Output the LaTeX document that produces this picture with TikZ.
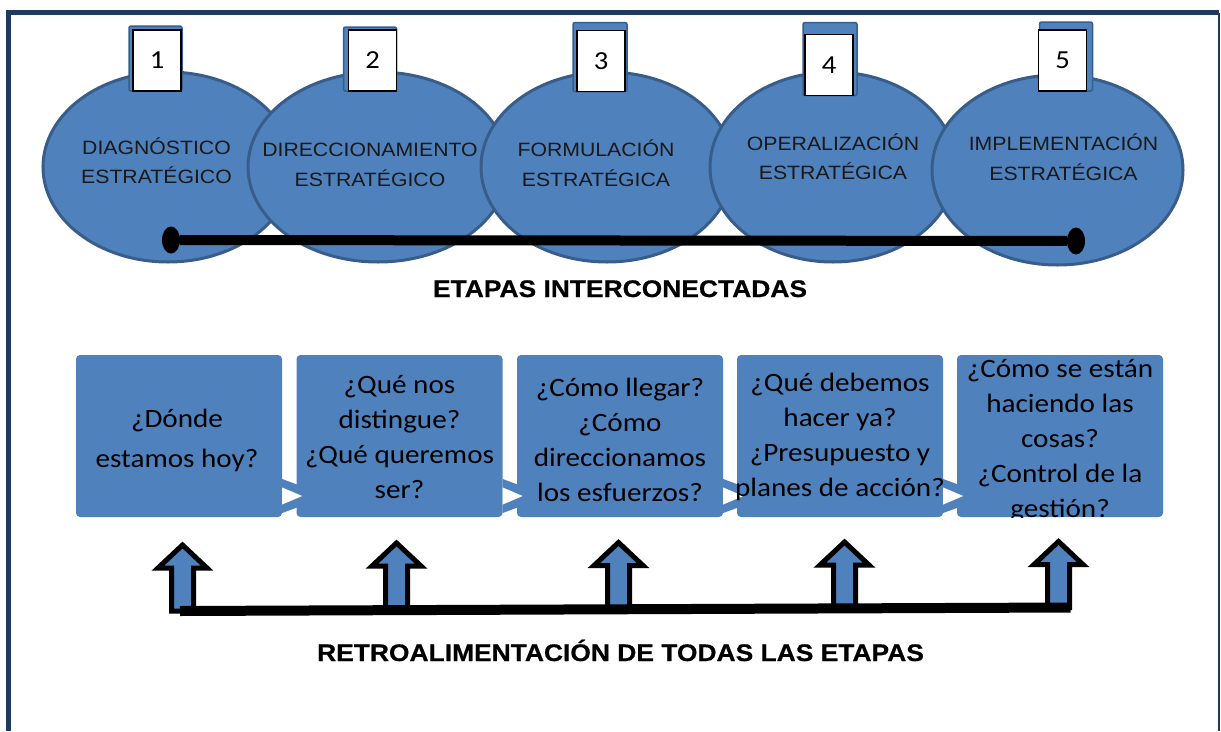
\documentclass[tikz,border=0pt]{standalone}
\usepackage{fontspec}
\newfontfamily\arialf[FakeStretch=1.1]{Liberation Sans}
\newfontfamily\arialbf[FakeStretch=1.1, FakeBold=0.6]{Liberation Sans Bold}
\newfontfamily\calibrif[FakeStretch=1.1]{Carlito}
\usetikzlibrary{shapes.geometric}
\definecolor{stageblue}{RGB}{79,129,189}
\definecolor{stageedge}{RGB}{56,93,138}
\definecolor{framenavy}{RGB}{31,58,96}

\begin{document}
\begin{tikzpicture}[x=1pt, y=-1pt,
  stage/.style={ellipse, draw=stageedge, line width=3pt, fill=stageblue,
    inner sep=0pt, minimum height=190pt},
  etext/.style={align=center, text=black!90, font=\arialf\fontsize{19.3}{29.5}\selectfont},
  numbox/.style={draw=black, line width=1.3pt, fill=white, minimum width=48pt,
    minimum height=61pt, inner sep=0pt, font=\calibrif\fontsize{26}{30}\selectfont},
  tabbox/.style={draw=stageedge, line width=1.5pt, fill=stageblue, rounded corners=2pt, inner sep=0pt},
  enddot/.style={ellipse, fill=black, inner sep=0pt, minimum width=18pt, minimum height=27pt},
  joinline/.style={line width=10pt, black},
  heading/.style={anchor=base, font=\arialbf\fontsize{24}{28}\selectfont},
  qbox/.style={rounded corners=4pt, fill=stageblue, minimum width=206pt,
    minimum height=162pt, inner sep=0pt},
  qtext/.style={align=center, font=\calibrif\fontsize{26.5}{35}\selectfont},
  chevout/.style={fill=stageblue},
  chevin/.style={fill=white},
  uparr/.style={draw=black, line width=5pt, fill=stageblue, miter limit=10},
  fbar/.style={line width=10pt, black}
]
  \useasboundingbox (0,0) rectangle (1221,731);
  % frame
  \draw[framenavy, line width=5pt] (8,731) -- (8,12.5) -- (1219,12.5);
  \draw[framenavy, line width=2pt] (1218.5,12.5) -- (1218.5,731);

  % stages
  \node[stage, minimum width=250pt] (diag) at (168,167) {};
  \node[stage, minimum width=260pt] (direc) at (378,167) {};
  \node[stage, minimum width=252pt] (formu) at (607,167) {};
  \node[stage, minimum width=246pt] (opera) at (833,167) {};
  \node[stage, minimum width=251pt] (imple) at (1057.5,170) {};

  \node[etext] (tdiag) at (156.5,160.5) {DIAGNÓSTICO\\ESTRATÉGICO};
  \node[etext] (tdirec) at (370,165) {DIRECCIONAMIENTO\\ESTRATÉGICO};
  \node[etext] (tformu) at (596,163) {FORMULACIÓN\\ESTRATÉGICA};
  \node[etext] (topera) at (833,156.5) {OPERALIZACIÓN\\ESTRATÉGICA};
  \node[etext] (timple) at (1063.5,157) {IMPLEMENTACIÓN\\ESTRATÉGICA};

  % numbers
  \node[tabbox, minimum width=53pt, minimum height=65pt] (tab1) at (155.5,58.5) {};
  \node[tabbox, minimum width=53pt, minimum height=64pt] (tab2) at (370,59) {};
  \node[tabbox, minimum width=54pt, minimum height=69pt] (tab3) at (600,57) {};
  \node[tabbox, minimum width=54pt, minimum height=73pt] (tab4) at (830,59) {};
  \node[tabbox, minimum width=53pt, minimum height=69pt] (tab5) at (1066,56.5) {};
  \node[numbox] (num1) at (157,60.5) {1};
  \node[numbox] (num2) at (372.5,60.5) {2};
  \node[numbox] (num3) at (601,61) {3};
  \node[numbox] (num4) at (829,65) {4};
  \node[numbox] (num5) at (1062.5,60.5) {5};

  \node[enddot] (dleft) at (171,240) {};
  \node[enddot] (dright) at (1076,241) {};
  \draw[joinline] (dleft) -- (dright);

  \node[heading] (etapas) at (620,297) {ETAPAS INTERCONECTADAS};

  % questions
  \node[qbox] (hoy) at (179,436) {};
  \node[qbox] (ser) at (399.5,436) {};
  \node[qbox] (llegar) at (620,436) {};
  \node[qbox] (hacer) at (840,436) {};
  \node[qbox] (gestion) at (1060,436) {};

  \fill[chevout] ([shift={(0,43)}]hoy.east) -- ([shift={(46,60)}]hoy.east) -- ([shift={(0,77)}]hoy.east) -- cycle;
  \fill[chevout] ([shift={(0,43)}]ser.east) -- ([shift={(46,60)}]ser.east) -- ([shift={(0,77)}]ser.east) -- cycle;
  \fill[chevout] ([shift={(0,43)}]llegar.east) -- ([shift={(46,60)}]llegar.east) -- ([shift={(0,77)}]llegar.east) -- cycle;
  \fill[chevout] ([shift={(0,43)}]hacer.east) -- ([shift={(46,60)}]hacer.east) -- ([shift={(0,77)}]hacer.east) -- cycle;
  \fill[chevin] ([shift={(0,51.5)}]hoy.east) -- ([shift={(20,60)}]hoy.east) -- ([shift={(0,68.5)}]hoy.east) -- cycle;
  \fill[chevin] ([shift={(0,51.5)}]ser.east) -- ([shift={(20,60)}]ser.east) -- ([shift={(0,68.5)}]ser.east) -- cycle;
  \fill[chevin] ([shift={(0,51.5)}]llegar.east) -- ([shift={(20,60)}]llegar.east) -- ([shift={(0,68.5)}]llegar.east) -- cycle;
  \fill[chevin] ([shift={(0,51.5)}]hacer.east) -- ([shift={(20,60)}]hacer.east) -- ([shift={(0,68.5)}]hacer.east) -- cycle;

  \begin{scope}
    \clip (0,355) rectangle (1221,517);
    \node[qtext, font=\calibrif\fontsize{26.5}{40}\selectfont] (qhoy) at (177,440) {¿Dónde\\estamos hoy?};
    \node[qtext] (qser) at (399.5,437) {¿Qué nos\\distingue?\\¿Qué queremos\\ser?};
    \node[qtext] (qllegar) at (620,440) {¿Cómo llegar?\\¿Cómo\\direccionamos\\los esfuerzos?};
    \node[qtext] (qhacer) at (840,437) {¿Qué debemos\\hacer ya?\\¿Presupuesto y\\planes de acción?};
    \node[qtext] (qgestion) at (1060,440.5) {¿Cómo se están\\haciendo las\\cosas?\\¿Control de la\\gestión?};
  \end{scope}

  % feedback
  \coordinate (a1) at (182.5,611);
  \coordinate (a2) at (396.5,609);
  \coordinate (a3) at (618.5,608.5);
  \coordinate (a4) at (844.5,608);
  \coordinate (a5) at (1058.5,607.5);
  \draw[uparr, shift={(a1)}] (-11,0) -- (-11,-43) -- (-24.5,-43) -- (0,-66) -- (24.5,-43) -- (11,-43) -- (11,0) -- cycle;
  \draw[uparr, shift={(a2)}] (-11,0) -- (-11,-43) -- (-24.5,-43) -- (0,-66) -- (24.5,-43) -- (11,-43) -- (11,0) -- cycle;
  \draw[uparr, shift={(a3)}] (-11,0) -- (-11,-43) -- (-24.5,-43) -- (0,-66) -- (24.5,-43) -- (11,-43) -- (11,0) -- cycle;
  \draw[uparr, shift={(a4)}] (-11,0) -- (-11,-43) -- (-24.5,-43) -- (0,-66) -- (24.5,-43) -- (11,-43) -- (11,0) -- cycle;
  \draw[uparr, shift={(a5)}] (-11,0) -- (-11,-43) -- (-24.5,-43) -- (0,-66) -- (24.5,-43) -- (11,-43) -- (11,0) -- cycle;
  \draw[fbar] ([xshift=-2.5pt]a1) -- ([xshift=12pt]a5);

  \node[heading] (retro) at (620.5,661) {RETROALIMENTACIÓN DE TODAS LAS ETAPAS};
\end{tikzpicture}
\end{document}
